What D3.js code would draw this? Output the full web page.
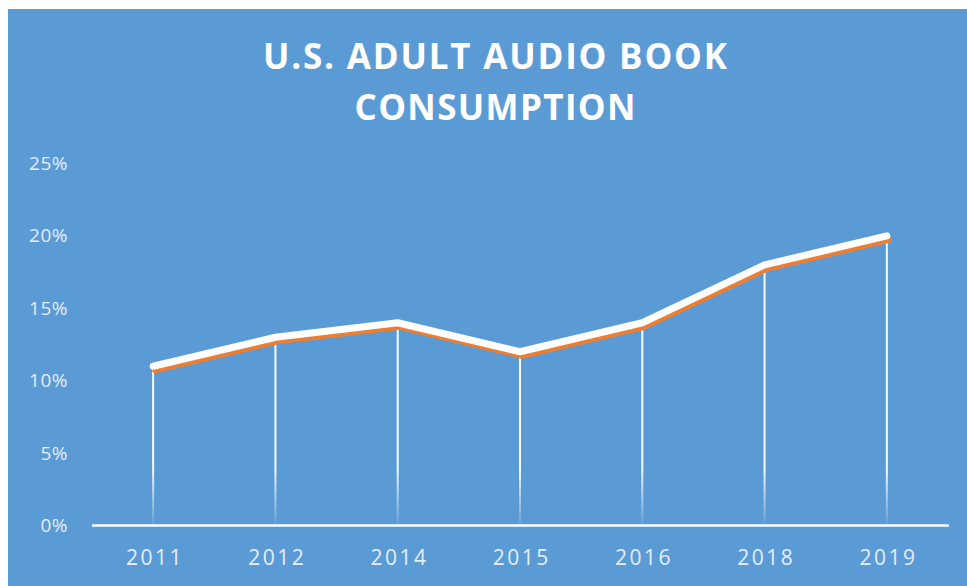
<!DOCTYPE html>
<html>
<head>
<meta charset="utf-8">
<script src="https://cdn.jsdelivr.net/npm/d3@7"></script>
<style>
  html, body { margin: 0; padding: 0; background: #ffffff; }
  svg { display: block; }
</style>
</head>
<body>
<svg id="chart" width="967" height="586"></svg>
<script>
// Survey years and share of U.S. adults who listened to an audiobook
const years = ["2011", "2012", "2014", "2015", "2016", "2018", "2019"];
const shares = [11, 13, 14, 12, 14, 18, 20];
const yTicks = [0, 5, 10, 15, 20, 25];
const titleLines = ["U.S. ADULT AUDIO BOOK", "CONSUMPTION"];

const W = 967, H = 586;
const svg = d3.select("#chart");

// Blue card background
svg.append("rect")
  .attr("x", 8).attr("y", 9)
  .attr("width", W - 8).attr("height", H - 9)
  .attr("fill", "#5B9BD5");

const x = d3.scalePoint().domain(years).range([92, 948]).padding(0.5);
const y = d3.scaleLinear().domain([0, 25]).range([525.5, 163.5]);

const defs = svg.append("defs");
const fade = defs.append("linearGradient")
  .attr("id", "dropFade")
  .attr("gradientUnits", "userSpaceOnUse")
  .attr("x1", 0).attr("x2", 0)
  .attr("y1", y(4)).attr("y2", y(0));
fade.append("stop").attr("offset", "0%").attr("stop-color", "#ffffff").attr("stop-opacity", 0.95);
fade.append("stop").attr("offset", "100%").attr("stop-color", "#ffffff").attr("stop-opacity", 0.05);

// Title
const title = svg.append("g")
  .attr("font-family", "'Open Sans', sans-serif")
  .attr("font-weight", 700)
  .attr("font-size", 35)
  .attr("fill", "#ffffff")
  .attr("text-anchor", "middle");
const titleWidths = [464, 281];
titleLines.forEach((t, i) => {
  const txt = title.append("text")
    .attr("x", 495)
    .attr("y", 69 + i * 51)
    .text(t);
  const natural = txt.node().getComputedTextLength();
  const ls = (titleWidths[i] - natural) / (t.length - 1);
  txt.style("letter-spacing", ls + "px").attr("x", 495 + ls / 2);
});

// Y axis labels (no axis line)
const yAxis = svg.append("g")
  .attr("transform", "translate(68,0)")
  .call(d3.axisLeft(y).tickValues(yTicks).tickSize(0).tickPadding(0).tickFormat(d => d + "%"));
yAxis.select(".domain").remove();
yAxis.selectAll("text")
  .attr("font-family", "'Open Sans', sans-serif")
  .attr("font-size", 19)
  .attr("fill", "#e4edf8")
  .style("letter-spacing", "0.5px");

// X axis
const xAxis = svg.append("g")
  .attr("transform", `translate(0,${y(0)})`)
  .call(d3.axisBottom(x).tickSize(0).tickPadding(0));
xAxis.select(".domain")
  .attr("d", `M92,0H949`)
  .attr("stroke", "#ffffff")
  .attr("stroke-width", 2.5);
xAxis.selectAll("text")
  .attr("y", 39)
  .attr("dy", 0)
  .attr("font-family", "'Open Sans', sans-serif")
  .attr("font-size", 21)
  .attr("fill", "#e4edf8")
  .style("letter-spacing", "2.5px")
  .attr("dx", 1.25);

// Drop lines from each point to the axis
svg.append("g").selectAll("line")
  .data(shares)
  .join("line")
  .attr("x1", (d, i) => x(years[i]))
  .attr("x2", (d, i) => x(years[i]))
  .attr("y1", d => y(d))
  .attr("y2", y(0) - 1)
  .attr("stroke", "url(#dropFade)")
  .attr("stroke-width", 2);

const line = d3.line()
  .x((d, i) => x(years[i]))
  .y(d => y(d));

// Orange shadow line
svg.append("path")
  .datum(shares)
  .attr("d", line)
  .attr("transform", "translate(2,4)")
  .attr("fill", "none")
  .attr("stroke", "#ED7D31")
  .attr("stroke-width", 6)
  .attr("stroke-linejoin", "round")
  .attr("stroke-linecap", "round");

// White data line
svg.append("path")
  .datum(shares)
  .attr("d", line)
  .attr("fill", "none")
  .attr("stroke", "#ffffff")
  .attr("stroke-width", 7)
  .attr("stroke-linejoin", "round")
  .attr("stroke-linecap", "round");
</script>
</body>
</html>
